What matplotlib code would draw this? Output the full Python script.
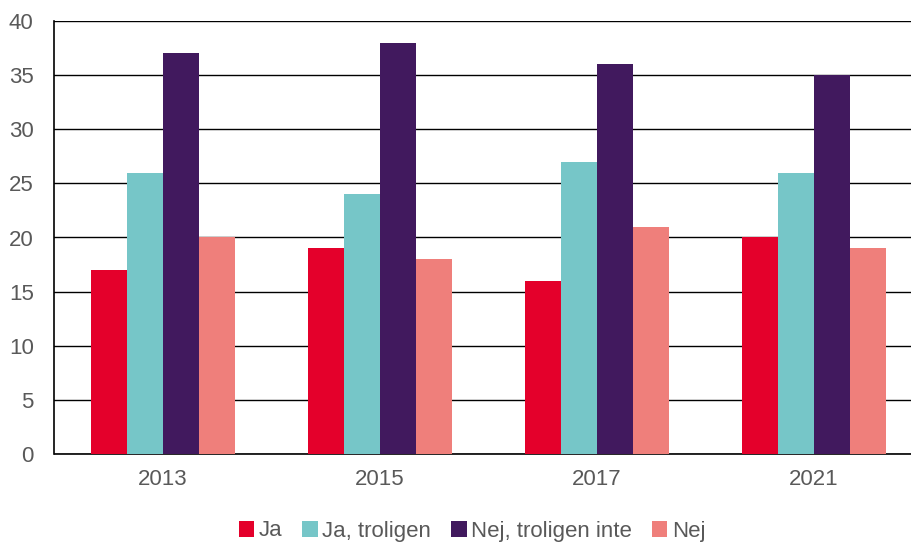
import matplotlib.pyplot as plt
import numpy as np

years = ['2013', '2015', '2017', '2021']
ja = [17, 19, 16, 20]
ja_troligen = [26, 24, 27, 26]
nej_troligen_inte = [37, 38, 36, 35]
nej = [20, 18, 21, 19]

labels = ['Ja', 'Ja, troligen', 'Nej, troligen inte', 'Nej']
colors = ['#E4002B', '#76C6C8', '#41195E', '#EF7F7B']
series = [ja, ja_troligen, nej_troligen_inte, nej]

plt.rcParams['font.family'] = ['Liberation Sans', 'DejaVu Sans']

fig = plt.figure(figsize=(9.12, 5.42), dpi=100)
# plot area runs slightly past the right edge, like the original crop
ax = fig.add_axes([54.5 / 912, 88 / 542, 868 / 912, 433 / 542])

x = np.arange(len(years))
w = 0.166
handles = []
for i, (vals, lab, col) in enumerate(zip(series, labels, colors)):
    b = ax.bar(x + (i - 1.5) * w, vals, w, color=col, label=lab, zorder=3)
    handles.append(b)

ax.set_xlim(-0.5, 3.5)
ax.set_ylim(0, 40)
ax.set_yticks(range(0, 41, 5))
ax.set_xticks(x)
ax.set_xticklabels(years)
ax.yaxis.grid(True, color='black', linewidth=1.0, zorder=0)
ax.set_axisbelow(True)

for s in ['top', 'right']:
    ax.spines[s].set_visible(False)
ax.spines['left'].set_linewidth(1.2)
ax.spines['bottom'].set_linewidth(1.2)
ax.tick_params(axis='both', length=0, labelsize=16, colors='#595959')
ax.tick_params(axis='x', pad=11)
ax.tick_params(axis='y', pad=15)

fig.legend(handles=handles, labels=labels, loc='center', bbox_to_anchor=(472 / 912, 11 / 542),
           ncol=4, frameon=False, fontsize=16, labelcolor='#595959',
           handlelength=0.7, handleheight=0.7, handletextpad=0.2, columnspacing=0.9,
           borderaxespad=0)

fig.savefig('out.png', dpi=100)
